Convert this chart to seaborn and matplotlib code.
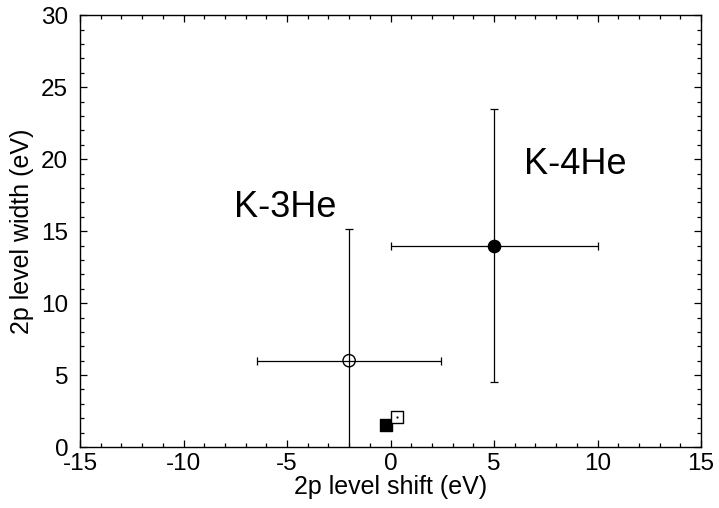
import matplotlib
matplotlib.use("Agg")
import matplotlib.pyplot as plt
import seaborn as sns
from matplotlib.ticker import MultipleLocator

# measured 2p level shift / width with errors
shift = [-2.0, 5.0]
width = [6.0, 14.0]
shift_err = [4.45, 5.0]
width_err = [9.15, 9.5]
filled = [False, True]
names = ["K-3He", "K-4He"]
label_x = [-5.1, 8.9]
label_y = [16.0, 19.0]

# square markers near the origin
sq_shift = [-0.2, 0.3]
sq_width = [1.53, 2.07]
sq_filled = [True, False]

sns.set_style("ticks")
plt.rcParams["font.family"] = ["Liberation Sans", "DejaVu Sans"]
plt.rcParams["axes.unicode_minus"] = False
for k in ["text.color", "axes.labelcolor", "xtick.color", "ytick.color", "axes.edgecolor"]:
    plt.rcParams[k] = "black"

fig, ax = plt.subplots(figsize=(7.19, 5.08), dpi=100)

for x, y, xe, ye, f in zip(shift, width, shift_err, width_err, filled):
    ax.errorbar(x, y, xerr=xe, yerr=ye, fmt="none", ecolor="black",
                elinewidth=0.9, capsize=3, capthick=0.9, zorder=2)
    sns.scatterplot(x=[x], y=[y], ax=ax, marker="o", s=78,
                    facecolor="black" if f else "none",
                    edgecolor="black", linewidth=1.0, zorder=3)

for x, y, f in zip(sq_shift, sq_width, sq_filled):
    sns.scatterplot(x=[x], y=[y], ax=ax, marker="s", s=72,
                    facecolor="black" if f else "white",
                    edgecolor="black", linewidth=1.0, zorder=3)
    if not f:
        ax.plot(x, y, marker=".", color="black", markersize=1.2, zorder=4)

for n, x, y in zip(names, label_x, label_y):
    ax.text(x, y, n, fontsize=26, ha="center", va="baseline")

ax.set_xlim(-15, 15)
ax.set_ylim(0, 30)
ax.xaxis.set_major_locator(MultipleLocator(5))
ax.xaxis.set_minor_locator(MultipleLocator(1))
ax.yaxis.set_major_locator(MultipleLocator(5))
ax.yaxis.set_minor_locator(MultipleLocator(1))
ax.tick_params(which="both", direction="in", top=True, right=True,
               labelsize=17.5, width=0.9)
ax.tick_params(which="major", length=5)
ax.tick_params(which="minor", length=2.6)
ax.tick_params(axis="x", pad=4)
ax.tick_params(axis="y", pad=8.5)
for s in ax.spines.values():
    s.set_linewidth(1.0)

ax.set_xlabel("2p level shift (eV)", fontsize=18, labelpad=0)
ax.set_ylabel("2p level width (eV)", fontsize=18, labelpad=5)

plt.subplots_adjust(left=0.1113, right=0.975, top=0.970, bottom=0.120)
fig.savefig("out.png", dpi=100)
